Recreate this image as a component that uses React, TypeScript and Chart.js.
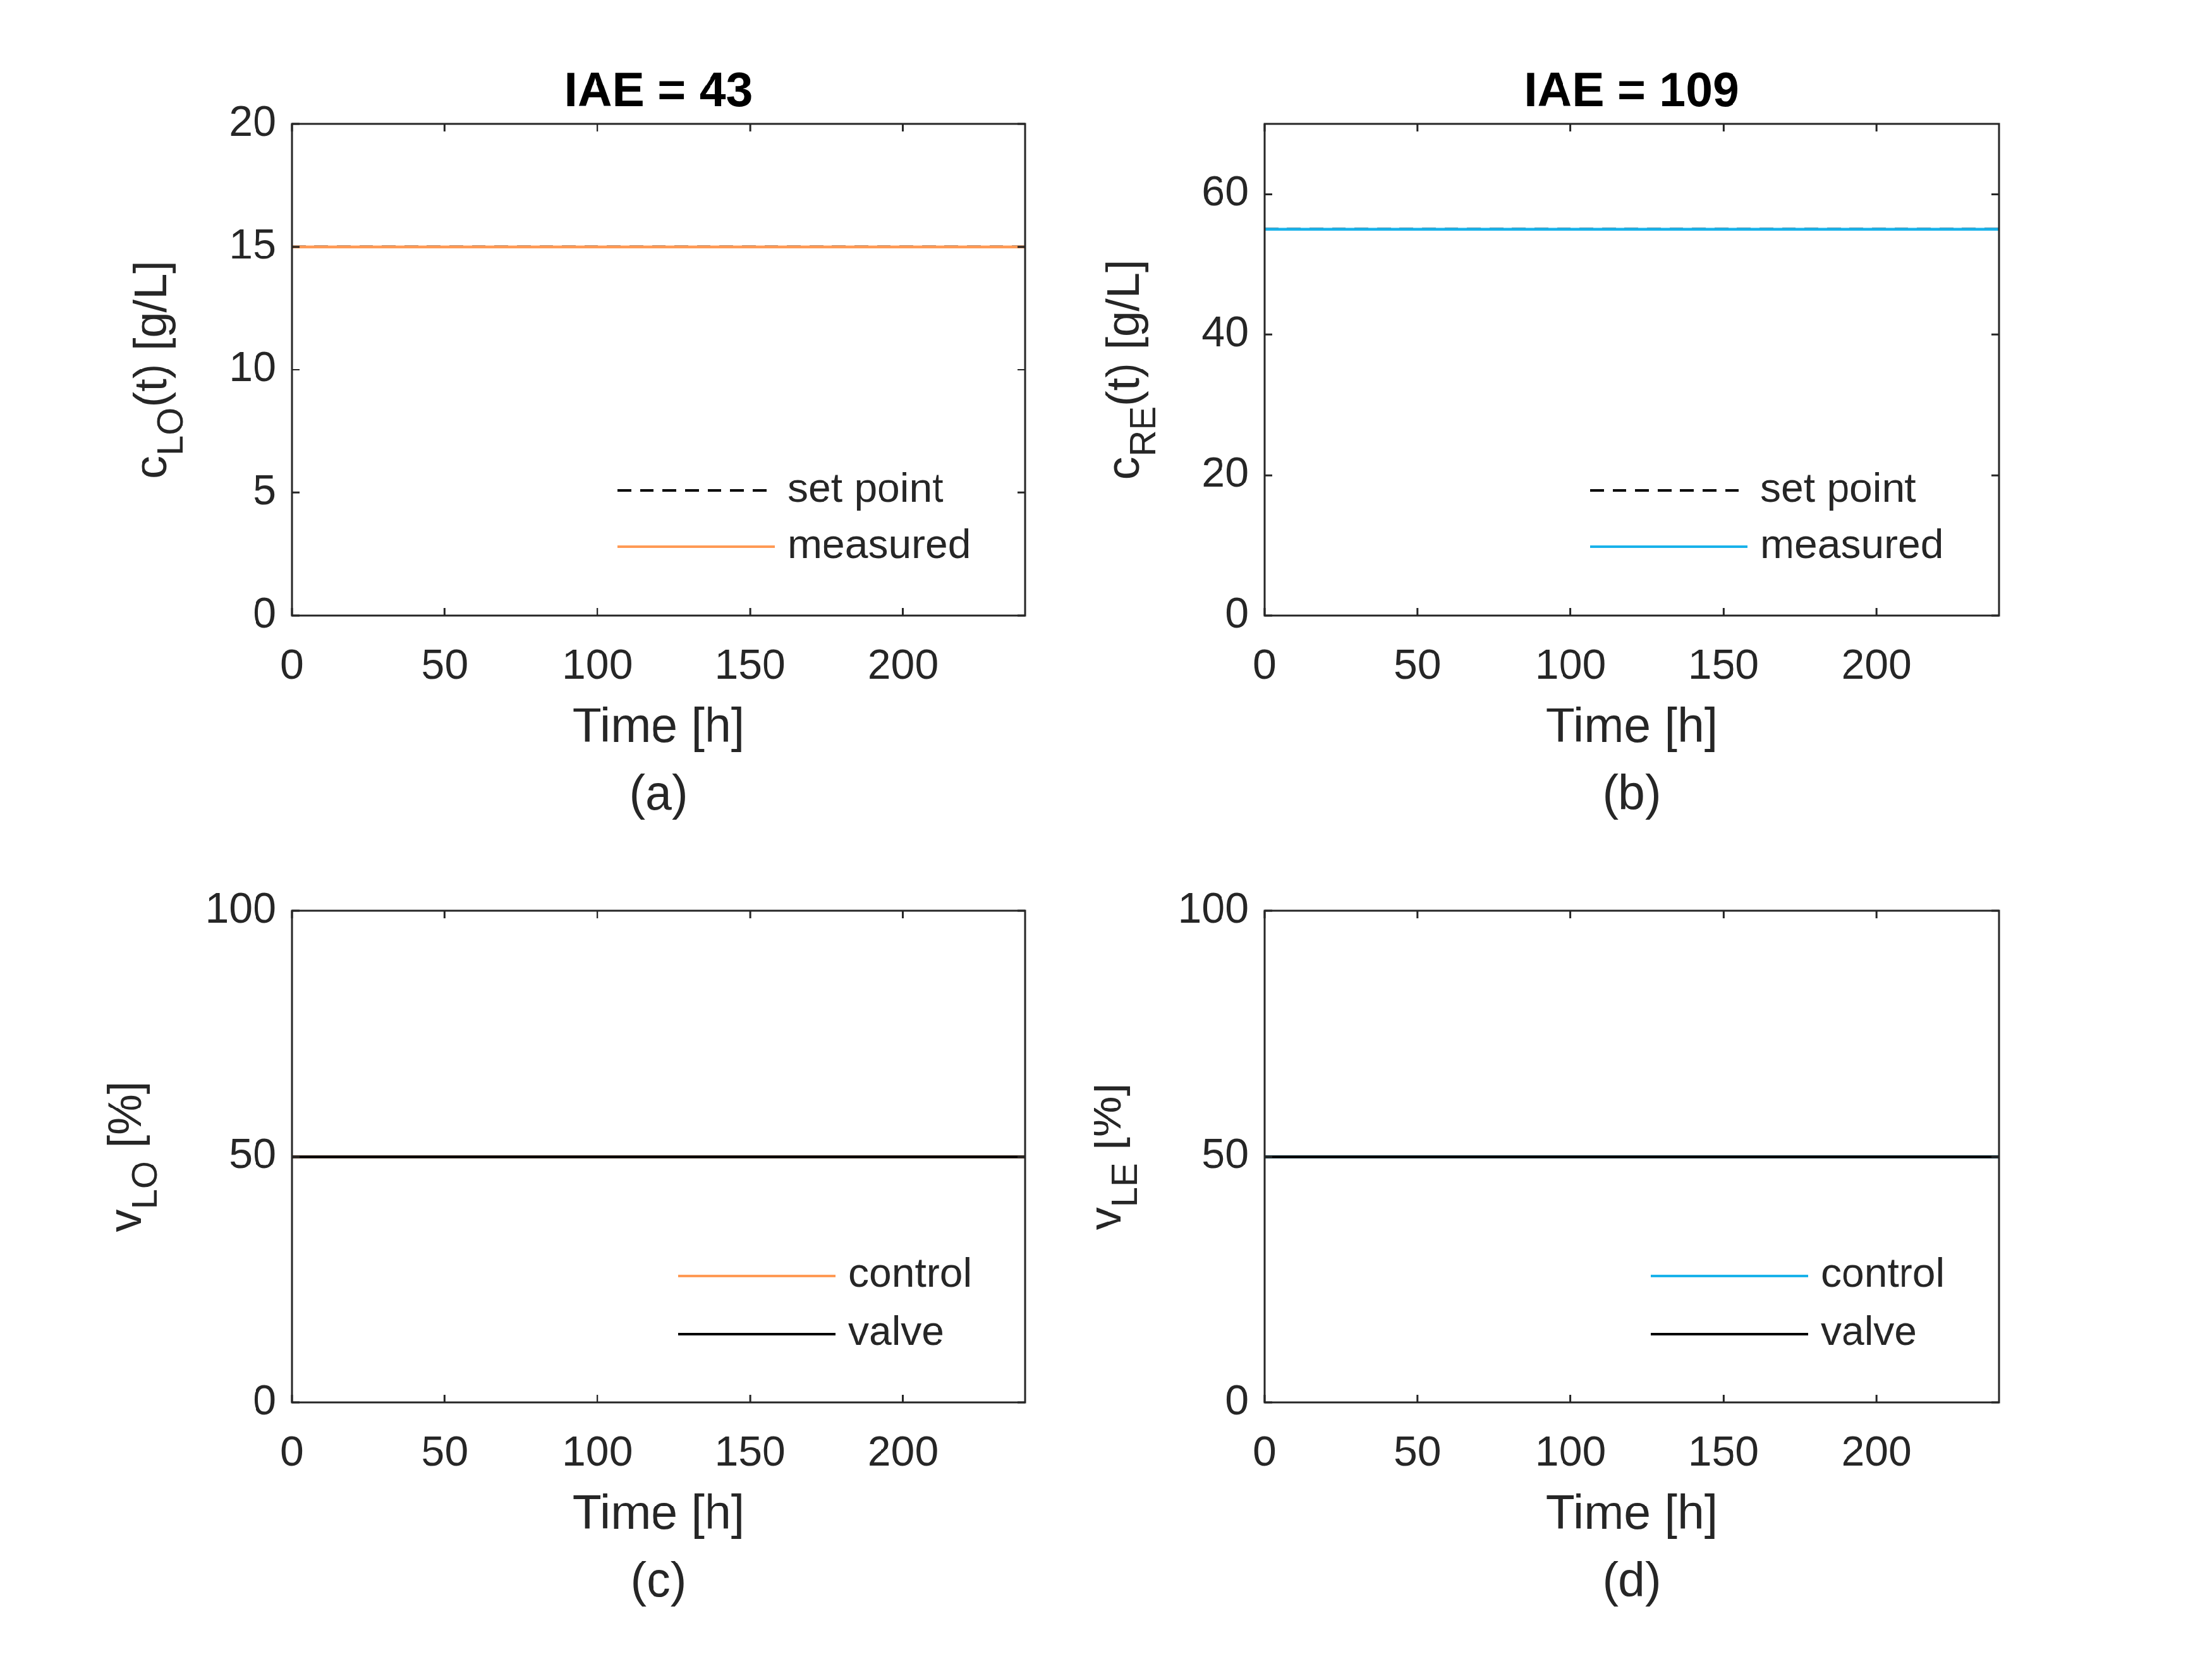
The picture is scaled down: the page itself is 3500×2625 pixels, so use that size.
import { useEffect, useRef } from 'react';
import Chart from 'chart.js/auto';

const time = [0, 240];
const setpointLO = [15, 15];
const measuredLO = [15, 15];
const setpointRE = [55, 55];
const measuredRE = [55, 55];
const controlLO = [50, 50];
const valveLO = [50, 50];
const controlLE = [50, 50];
const valveLE = [50, 50];
const xTicks = [0, 50, 100, 150, 200];

const ORANGE = '#ff9a55';
const BLUE = '#19b2ea';
const INK = '#262626';
const FONT = '"Liberation Sans", Arial, sans-serif';
const W = 1750;
const H = 1312;

type Panel = {
    left: number; top: number; right: number; bottom: number;
    yMax: number; yTicks: number[];
    title?: string; letter: string;
    yMain: string; ySub: string; yRest: string; yLabelX: number;
    series: { data: number[]; color: string; dash?: number[]; label: string; order: number }[];
    legendX: number; legendY: number[];
};

const panels: Panel[] = [
    {
        left: 467, top: 198, right: 1640, bottom: 985, yMax: 20, yTicks: [0, 5, 10, 15, 20],
        title: 'IAE = 43', letter: '(a)', yMain: 'c', ySub: 'LO', yRest: '(t) [g/L]', yLabelX: 266,
        series: [
            { data: setpointLO, color: '#000', dash: [22, 14], label: 'set point', order: 1 },
            { data: measuredLO, color: ORANGE, label: 'measured', order: 0 },
        ],
        legendX: 521, legendY: [587, 677],
    },
    {
        left: 273, top: 198, right: 1448, bottom: 985, yMax: 70, yTicks: [0, 20, 40, 60],
        title: 'IAE = 109', letter: '(b)', yMain: 'c', ySub: 'RE', yRest: '(t) [g/L]', yLabelX: 72,
        series: [
            { data: setpointRE, color: '#000', dash: [22, 14], label: 'set point', order: 1 },
            { data: measuredRE, color: BLUE, label: 'measured', order: 0 },
        ],
        legendX: 521, legendY: [587, 677],
    },
    {
        left: 467, top: 145, right: 1640, bottom: 932, yMax: 100, yTicks: [0, 50, 100],
        letter: '(c)', yMain: 'v', ySub: 'LO', yRest: ' [%]', yLabelX: 225,
        series: [
            { data: controlLO, color: ORANGE, label: 'control', order: 1 },
            { data: valveLO, color: '#000', label: 'valve', order: 0 },
        ],
        legendX: 618, legendY: [584, 677],
    },
    {
        left: 273, top: 145, right: 1448, bottom: 932, yMax: 100, yTicks: [0, 50, 100],
        letter: '(d)', yMain: 'v', ySub: 'LE', yRest: ' [%]', yLabelX: 43,
        series: [
            { data: controlLE, color: BLUE, label: 'control', order: 1 },
            { data: valveLE, color: '#000', label: 'valve', order: 0 },
        ],
        legendX: 618, legendY: [584, 677],
    },
];

function PanelChart({ p, x, y }: { p: Panel; x: number; y: number }) {
    const ref = useRef<HTMLCanvasElement>(null);

    useEffect(() => {
        if (!ref.current) return;
        const deco = {
            id: 'deco',
            afterDraw(chart: any) {
                const ctx = chart.ctx as CanvasRenderingContext2D;
                const a = chart.chartArea;
                const xs = chart.scales.x;
                const ys = chart.scales.y;
                ctx.save();
                ctx.strokeStyle = INK;
                ctx.lineWidth = 3;
                ctx.strokeRect(a.left, a.top, a.right - a.left, a.bottom - a.top);
                const tl = 12;
                ctx.beginPath();
                xTicks.forEach((v) => {
                    const px = xs.getPixelForValue(v);
                    ctx.moveTo(px, a.bottom); ctx.lineTo(px, a.bottom - tl);
                    ctx.moveTo(px, a.top); ctx.lineTo(px, a.top + tl);
                });
                p.yTicks.forEach((v) => {
                    const py = ys.getPixelForValue(v);
                    ctx.moveTo(a.left, py); ctx.lineTo(a.left + tl, py);
                    ctx.moveTo(a.right, py); ctx.lineTo(a.right - tl, py);
                });
                ctx.stroke();

                ctx.fillStyle = INK;
                ctx.textAlign = 'center';
                ctx.textBaseline = 'middle';
                const cx = (a.left + a.right) / 2;
                ctx.font = `77px ${FONT}`;
                ctx.fillText('Time [h]', cx, a.bottom + 181);
                ctx.fillText(p.letter, cx, a.bottom + 289);
                if (p.title) {
                    ctx.fillStyle = '#000';
                    ctx.font = `bold 77px ${FONT}`;
                    ctx.fillText(p.title, cx, a.top - 49);
                    ctx.fillStyle = INK;
                }

                // y-axis label with subscript
                ctx.save();
                ctx.translate(p.yLabelX, (a.top + a.bottom) / 2);
                ctx.rotate(-Math.PI / 2);
                ctx.textAlign = 'left';
                ctx.textBaseline = 'alphabetic';
                const big = `74px ${FONT}`;
                const small = `58px ${FONT}`;
                ctx.font = big;
                const w1 = ctx.measureText(p.yMain).width;
                const w3 = ctx.measureText(p.yRest).width;
                ctx.font = small;
                const w2 = ctx.measureText(p.ySub).width;
                let sx = -(w1 + w2 + w3) / 2;
                ctx.font = big;
                ctx.fillText(p.yMain, sx, 0); sx += w1;
                ctx.font = small;
                ctx.fillText(p.ySub, sx, 26); sx += w2;
                ctx.font = big;
                ctx.fillText(p.yRest, sx, 0);
                ctx.restore();

                // legend
                ctx.font = `66px ${FONT}`;
                ctx.textAlign = 'left';
                p.series.forEach((s, i) => {
                    const ly = a.top + p.legendY[i];
                    const lx = a.left + p.legendX;
                    ctx.strokeStyle = s.color;
                    ctx.lineWidth = 4;
                    ctx.setLineDash(s.dash ?? []);
                    ctx.beginPath();
                    ctx.moveTo(lx, ly); ctx.lineTo(lx + 252, ly);
                    ctx.stroke();
                    ctx.setLineDash([]);
                    ctx.fillStyle = INK;
                    ctx.fillText(s.label, lx + 272, ly);
                });
                ctx.restore();
            },
        };

        const chart = new Chart(ref.current, {
            type: 'line',
            data: {
                datasets: p.series.map((s) => ({
                    label: s.label,
                    data: time.map((t, i) => ({ x: t, y: s.data[i] })),
                    borderColor: s.color,
                    borderWidth: 4.5,
                    borderDash: s.dash ?? [],
                    pointRadius: 0,
                    fill: false,
                    order: s.order,
                })),
            },
            options: {
                responsive: false,
                animation: false,
                devicePixelRatio: 1,
                layout: { padding: { top: p.top, right: W - p.right, left: 0, bottom: 0 } },
                plugins: { legend: { display: false }, tooltip: { enabled: false }, title: { display: false } },
                scales: {
                    x: {
                        type: 'linear', min: 0, max: 240,
                        grid: { display: false, drawTicks: false },
                        border: { display: false },
                        ticks: { stepSize: 50, padding: 41, color: INK, font: { size: 68, family: FONT }, maxRotation: 0 },
                        afterBuildTicks: (s: any) => { s.ticks = xTicks.map((v) => ({ value: v })); },
                        afterFit: (s: any) => { s.height = H - p.bottom; },
                    },
                    y: {
                        type: 'linear', min: 0, max: p.yMax,
                        grid: { display: false, drawTicks: false },
                        border: { display: false },
                        ticks: { padding: 25, color: INK, font: { size: 68, family: FONT } },
                        afterBuildTicks: (s: any) => { s.ticks = p.yTicks.map((v) => ({ value: v })); },
                        afterFit: (s: any) => { s.width = p.left; },
                    },
                },
            } as any,
            plugins: [deco],
        });
        return () => chart.destroy();
    }, [p]);

    return (
        <canvas ref={ref} width={W} height={H}
            style={{ position: 'absolute', left: x, top: y, width: W, height: H }} />
    );
}

export default function App() {
    return (
        <div style={{ position: 'fixed', left: 0, top: 0, width: 3500, height: 2625, background: '#fff', overflow: 'hidden' }}>
            <div style={{ position: 'absolute', left: 0, top: 0, width: 3500, height: 2625, transform: 'scale(0.989)', transformOrigin: '0 0' }}>
                <PanelChart p={panels[0]} x={0} y={0} />
                <PanelChart p={panels[1]} x={W} y={0} />
                <PanelChart p={panels[2]} x={0} y={H} />
                <PanelChart p={panels[3]} x={W} y={H} />
            </div>
        </div>
    );
}
